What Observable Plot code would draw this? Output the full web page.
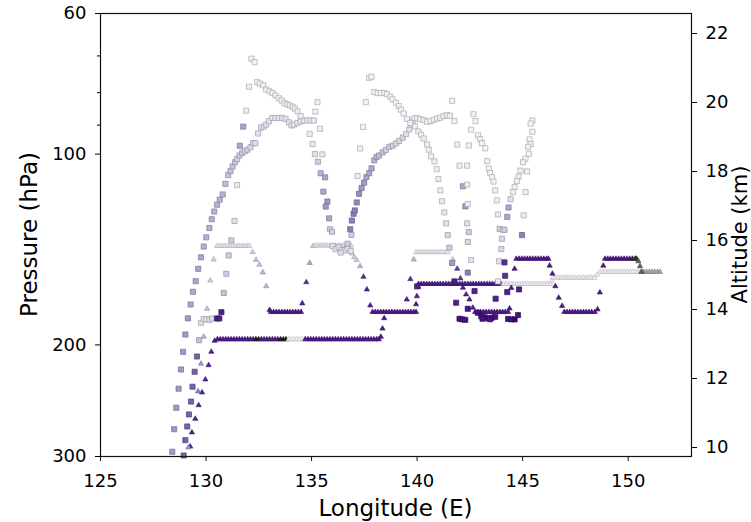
<!DOCTYPE html>
<html><head><meta charset="utf-8">
<script src="https://cdn.jsdelivr.net/npm/d3@7"></script>
<script src="https://cdn.jsdelivr.net/npm/@observablehq/plot@0.6"></script>
<style>html,body{margin:0;padding:0;background:#fff;overflow:hidden}</style>
</head><body><div id="chart"></div>
<script>
// ---- axis / tick values ----
const xTicks = [125,130,135,140,145,150];
const pMajor = [60,100,200,300];
const pMinor = [70,80,90];
const altTicks = [10,12,14,16,18,20,22];
const altAtBottom = 9.74, altAtTop = 22.58; // altitude (km) at 300 hPa and 60 hPa

// ---- squares: [longitude, pressure hPa, shade] ----
const sqOuterArc = [[128.40,294.9,0.5],[128.49,271.7,0.5],[128.59,251.3,0.5],[128.70,234.5,0.5],[128.81,218.7,0.5],[128.91,205.1,0.5],[129.02,192.6,0.5],[129.14,181.6,0.5],[129.27,172.7,0.45],[129.38,164.9,0.45],[129.51,158.7,0.45],[129.63,151.7,0.45],[129.76,145.5,0.45],[129.89,139.9,0.42],[130.01,135.3,0.42],[130.16,130.8,0.42],[130.27,126.7,0.42],[130.39,123.2,0.4],[130.52,120.2,0.4],[130.65,118.0,0.4],[130.79,115.8,0.4],[130.92,111.4,0.38],[131.05,107.9,0.35],[131.16,106.3,0.35],[131.26,104.6,0.35],[131.38,103.0,0.33],[131.47,101.8,0.3],[131.58,100.5,0.3],[131.71,99.6,0.3],[131.83,99.0,0.28],[131.96,98.4,0.28],[132.11,97.5,0.25],[132.23,96.1,0.25]];
const sqArcTop = [[132.34,96.1,0.22],[132.47,92.8,0.2],[132.61,90.8,0.2],[132.74,90.5,0.2],[132.85,89.8,0.2],[132.98,88.7,0.18],[133.14,87.7,0.18],[133.29,87.7,0.18],[133.45,87.7,0.18],[133.61,87.7,0.18],[133.77,88.0,0.18],[133.93,89.1,0.18],[134.05,90.1,0.18],[134.16,89.8,0.18],[134.33,89.3,0.16],[134.48,88.8,0.16],[134.64,88.5,0.16],[134.80,88.5,0.16],[134.96,88.5,0.16],[135.11,88.5,0.16]];
const sqTopLine = [[132.42,77.0,0.1],[132.55,77.4,0.1],[132.71,77.9,0.1],[132.85,79.1,0.1],[133.01,79.6,0.1],[133.15,80.1,0.1],[133.29,80.8,0.1],[133.44,81.6,0.1],[133.58,82.3,0.1],[133.72,83.1,0.1],[133.85,83.5,0.1],[133.97,83.8,0.1],[134.10,84.2,0.1],[134.21,84.8,0.1],[134.33,85.6,0.1],[134.48,87.1,0.12]];
const sqPeakDescent = [[132.15,70.7,0.08],[132.30,71.6,0.08],[132.04,78.3,0.1],[131.90,85.4,0.12],[131.76,90.5,0.45],[131.60,97.0,0.45],[131.47,111.9,0.15],[131.35,127.5,0.2],[131.20,136.8,0.3],[131.07,144.5,0.3],[130.96,154.5,0.3],[130.84,165.6,0.35],[130.73,177.6,0.9]];
const sqArc1Right = [[135.28,82.8,0.1],[135.18,85.7,0.1],[135.40,91.2,0.12],[134.91,92.9,0.12],[135.05,96.4,0.15],[135.16,100.0,0.2],[135.51,100.1,0.15],[135.30,102.8,0.3],[135.43,107.2,0.4],[135.64,108.8,0.45],[135.56,114.6,0.45],[135.75,118.8,0.5],[135.67,121.0,0.5],[135.83,126.3,0.45],[135.87,131.4,0.3],[135.97,132.6,0.3]];
const sqCluster136 = [[136.00,139.7,0.2],[136.14,141.3,0.2],[136.29,140.3,0.2],[136.43,141.7,0.2],[136.57,141.9,0.2],[136.71,140.9,0.2],[136.38,143.0,0.22],[136.86,142.2,0.2]];
const sqLine137 = [[137.57,82.8,0.08],[137.44,90.6,0.08],[137.30,98.0,0.1],[137.18,108.3,0.12],[136.89,134.1,0.3],[136.70,138.5,0.3]];
const sqArc2Left = [[136.83,131.4,0.6],[136.91,127.3,0.6],[136.99,124.2,0.6],[137.05,122.7,0.6],[137.14,119.2,0.55],[137.25,115.5,0.55],[137.37,113.1,0.5],[137.49,110.9,0.5],[137.60,108.7,0.45],[137.73,107.2,0.45],[137.84,105.3,0.45],[137.97,102.3,0.4],[138.08,101.1,0.4],[138.20,100.5,0.35],[138.37,99.4,0.35],[138.52,98.5,0.3],[138.68,97.4,0.3],[138.84,97.0,0.3],[139.00,96.2,0.25],[139.15,95.3,0.25],[139.32,94.2,0.25],[139.47,93.0,0.2],[139.63,91.4,0.2],[139.74,89.9,0.15],[139.79,88.6,0.15],[139.87,87.8,0.1],[140.00,87.8,0.1],[140.14,88.1,0.1],[140.31,88.4,0.1],[140.47,88.9,0.1],[140.63,88.7,0.1],[140.79,88.3,0.1],[140.95,87.9,0.1],[141.10,87.6,0.1],[141.26,87.1,0.1],[141.42,86.8,0.1],[141.55,87.0,0.1]];
const sqArc2Descent = [[137.73,75.8,0.08],[137.84,75.5,0.08],[137.97,79.8,0.08],[138.13,80.1,0.08],[138.28,80.1,0.08],[138.44,80.1,0.08],[138.57,80.4,0.08],[138.73,81.2,0.08],[138.84,82.0,0.08],[139.00,83.0,0.08],[139.13,84.0,0.08],[139.23,85.1,0.08],[139.36,86.3,0.08],[139.52,88.0,0.08],[139.68,89.3,0.1],[139.90,90.4,0.1],[140.06,92.1,0.1],[140.19,93.2,0.1],[140.31,94.5,0.1],[140.47,96.6,0.1],[140.55,98.4,0.1],[140.66,100.8,0.1],[140.82,102.7,0.1],[140.93,105.6,0.1],[141.01,109.5,0.12],[141.10,114.1,0.12],[141.18,118.7,0.15],[141.29,123.6,0.15],[141.37,128.6,0.2],[141.45,134.2,0.25],[141.53,140.5,0.3],[141.66,148.5,0.5],[141.77,158.8,0.9],[141.85,171.6,0.9],[142.01,181.9,0.95],[142.13,182.3,0.95],[142.28,182.6,0.95]];
const sqColumn142 = [[141.66,82.4,0.08],[141.77,88.7,0.08],[141.90,96.6,0.1],[142.01,104.3,0.1],[142.37,104.3,0.1],[142.17,112.4,0.45],[142.37,111.7,0.12],[142.29,120.9,0.5],[142.40,119.9,0.12],[142.45,96.9,0.08],[142.37,128.6,0.2],[142.45,132.7,0.3],[142.40,137.6,0.25],[142.56,146.9,0.2],[142.40,153.8,0.6],[142.72,164.5,0.9],[142.40,175.4,0.95]];
const sqLine143 = [[142.67,86.5,0.08],[142.77,88.7,0.08],[142.56,91.5,0.08],[142.88,93.4,0.08],[142.99,94.7,0.08],[143.07,96.1,0.08],[143.23,97.9,0.08],[143.32,102.6,0.08],[143.40,105.4,0.08],[143.46,107.1,0.08],[143.55,108.7,0.08],[143.62,110.5,0.08],[143.70,114.1,0.1],[143.78,118.3,0.12],[143.83,124.5,0.15],[143.91,131.2,0.3],[144.07,131.7,0.2],[144.02,136.0,0.25],[143.99,141.2,0.25],[143.88,147.6,0.2],[144.14,148.2,0.85],[144.17,155.6,0.85],[143.83,158.8,0.15],[144.27,165.1,0.9],[143.72,169.1,0.9],[144.83,163.5,0.9],[144.97,134.2,0.6]];
const sqLine145 = [[145.46,88.5,0.08],[145.38,89.5,0.08],[145.46,92.2,0.08],[145.33,94.8,0.08],[145.38,96.4,0.08],[145.26,97.4,0.08],[145.29,99.9,0.08],[145.13,101.7,0.08],[145.02,103.0,0.08],[144.90,106.2,0.1],[145.21,106.5,0.1],[144.81,108.5,0.1],[144.73,110.3,0.1],[144.62,112.7,0.1],[144.54,114.8,0.12],[145.14,114.8,0.1],[144.43,117.8,0.2],[144.33,121.4,0.45],[144.27,125.6,0.45],[145.05,124.9,0.12],[144.14,131.7,0.3]];
const sqLowCluster = [[142.88,178.0,0.95],[143.04,180.3,0.95],[143.20,180.9,0.95],[143.37,181.6,0.95],[143.54,181.2,0.95],[143.70,180.6,0.95],[143.10,181.9,0.95],[143.45,182.2,0.95],[144.31,182.0,0.95],[144.46,182.3,0.95],[144.62,182.3,1.0],[144.78,179.5,0.95],[140.00,161.7,0.9]];
const sqInnerArc = [[128.94,298.9,0.7],[129.02,282.7,0.7],[129.11,269.0,0.7],[129.19,257.5,0.7],[129.29,245.7,0.7],[129.36,232.8,0.7],[129.46,220.5,0.7],[129.57,208.6,0.7],[129.67,196.6,0.35]];
const sqCluster130 = [[129.76,184.6,0.2],[129.89,182.2,0.2],[130.01,182.2,0.2],[130.16,182.7,0.22],[130.29,181.7,0.22],[130.52,181.7,0.9],[130.63,181.7,0.9]];

// ---- triangles: [longitude, pressure hPa, shade]  (shade > 1: grey to black) ----
const triRiseA = [[129.25,289.4,0.9],[129.33,274.9,0.9],[129.49,261.6,0.9],[129.65,249.0,0.9],[129.81,237.7,0.9],[129.97,226.8,0.9],[130.12,215.3,0.9],[130.25,205.1,0.9]];
const triRiseB = [[129.16,290.3,0.5],[129.62,236.8,0.6],[129.76,214.2,0.5],[129.89,194.2,0.4],[130.05,175.4,0.35],[130.20,158.3,0.3],[130.36,146.7,0.3]];
const triFlat196 = [[130.41,197,0.92],[130.54,196,0.92],[130.67,196,0.92],[130.80,196,0.92],[130.93,196,0.92],[131.06,196,0.92],[131.19,196,0.92],[131.32,196,0.92],[131.45,196,0.92],[131.58,196,0.92],[131.71,196,0.92],[131.84,196,0.92],[131.97,196,0.92],[132.10,196,0.92],[132.23,196,0.92],[132.36,196,1.9],[132.49,196,1.9],[132.62,196,0.92],[132.75,196,0.92],[132.88,196,0.92],[133.01,196,0.92],[133.14,196,0.92],[133.27,196,0.92],[133.40,196,0.92],[133.53,196,1.9],[133.66,196,1.9],[133.79,196,1.9],[133.92,196,0.05],[134.05,196,0.05],[134.18,196,0.05],[134.31,196,0.05],[134.44,196,0.05],[134.57,196,0.05],[134.70,196,0.92],[134.83,196,0.92],[134.96,196,0.92],[135.09,196,0.92],[135.22,196,0.92],[135.35,196,0.92],[135.48,196,0.92],[135.61,196,0.92],[135.74,196,0.92],[135.87,196,0.92],[136.00,196,0.92],[136.13,196,0.92],[136.26,196,0.92],[136.39,196,0.92],[136.52,196,0.92],[136.65,196,0.92],[136.78,196,0.92],[136.91,196,0.92],[137.04,196,0.92],[137.17,196,0.92],[137.30,196,0.92],[137.43,196,0.92],[137.56,196,0.92],[137.69,196,0.92],[137.82,196,0.92],[137.95,196,0.92],[138.08,196,0.92],[138.19,196,0.92]];
const triRise196 = [[138.28,194.2,0.92],[138.36,188.5,0.92],[138.44,181.5,0.92]];
const triFlat140a = [[130.52,139.6,0.18],[130.65,139.6,0.18],[130.78,139.6,0.18],[130.91,139.6,0.18],[131.04,139.6,0.18],[131.17,139.6,0.18],[131.30,139.6,0.18],[131.43,139.6,0.18],[131.56,139.6,0.18],[131.69,139.6,0.18],[131.82,139.6,0.18],[131.95,139.6,0.18],[132.05,139.6,0.18]];
const triDesc1 = [[132.21,142.8,0.3],[132.37,146.9,0.35],[132.53,149.5,0.35],[132.69,153.7,0.4],[132.85,161.6,0.4],[133.01,176.2,0.92]];
const triFlat177a = [[133.07,177.5,0.92],[133.20,177.5,0.92],[133.33,177.5,0.92],[133.46,177.5,0.92],[133.59,177.5,0.92],[133.72,177.5,0.92],[133.85,177.5,0.92],[133.98,177.5,0.92],[134.11,177.5,0.92],[134.24,177.5,0.92],[134.37,177.5,0.92],[134.50,177.5,0.92]];
const triRise2 = [[134.56,172.0,0.9],[134.75,159.3,0.85],[134.91,148.5,0.45],[135.07,139.7,0.3]];
const triFlat140b = [[135.20,139.4,0.2],[135.33,139.4,0.2],[135.46,139.4,0.2],[135.59,139.4,0.2],[135.72,139.4,0.2],[135.85,139.4,0.2],[135.98,139.4,0.2],[136.11,139.4,0.2],[136.24,139.4,0.2],[136.37,139.4,0.2],[136.50,139.4,0.2],[136.63,139.4,0.2],[136.76,139.4,0.2],[136.86,139.4,0.2]];
const triDesc2 = [[136.92,143.5,0.25],[137.02,145.5,0.3],[137.14,147.0,0.3],[137.30,150.3,0.4],[137.46,156.2,0.85],[137.62,163.5,0.9],[137.78,173.3,0.9]];
const triFlat177b = [[137.89,177.5,0.92],[138.02,177.5,0.92],[138.15,177.5,0.92],[138.28,177.5,0.92],[138.41,177.5,0.92],[138.54,177.5,0.92],[138.67,177.5,0.92],[138.80,177.5,0.92],[138.93,177.5,0.92],[139.06,177.5,0.92],[139.19,177.5,0.92],[139.32,177.5,0.92],[139.45,177.5,0.92],[139.58,177.5,0.92],[139.71,177.5,0.92],[139.84,177.5,0.92],[139.95,177.5,0.92]];
const triRise3 = [[139.51,169.6,0.9],[139.68,157.5,0.85],[139.84,146.7,0.4]];
const triFlat143 = [[139.95,142.8,0.15],[140.08,142.8,0.15],[140.21,142.8,0.15],[140.34,142.8,0.15],[140.47,142.8,0.15],[140.60,142.8,0.15],[140.73,142.8,0.15],[140.86,142.8,0.15],[140.99,142.8,0.15],[141.12,142.8,0.15],[141.25,142.8,0.15],[141.38,142.8,0.15],[141.45,142.8,0.15]];
const triDesc3 = [[141.69,146.7,0.3],[141.90,151.7,0.8],[142.05,157.1,0.85],[142.17,162.5,0.9],[142.32,166.5,0.9],[142.48,169.6,0.9],[142.64,174.7,0.9]];
const triFlat177c = [[142.75,177.5,0.92],[142.88,177.5,0.92],[143.01,177.5,0.92],[143.14,177.5,0.92],[143.27,177.5,0.92],[143.40,177.5,0.92],[143.53,177.5,0.92],[143.66,177.5,0.92],[143.79,177.5,0.92],[143.92,177.5,0.92],[144.05,177.5,0.92],[144.18,177.5,0.92],[144.31,177.5,0.92]];
const triRise4 = [[144.38,175.2,0.92],[144.46,162.6,0.92],[144.62,151.7,0.92]];
const triFlat146a = [[144.70,146.3,0.92],[144.83,146.3,0.92],[144.96,146.3,0.92],[145.09,146.3,0.92],[145.22,146.3,0.92],[145.35,146.3,0.92],[145.48,146.3,0.92],[145.61,146.3,0.92],[145.74,146.3,0.92],[145.87,146.3,0.92],[146.00,146.3,0.92],[146.13,146.3,0.92],[146.22,146.3,0.92]];
const triDesc4 = [[146.28,150.0,0.92],[146.41,154.4,0.92],[146.55,161.6,0.92],[146.71,168.5,0.92],[146.87,173.6,0.92]];
const triFlat177d = [[146.97,177.5,0.92],[147.10,177.5,0.92],[147.23,177.5,0.92],[147.36,177.5,0.92],[147.49,177.5,0.92],[147.62,177.5,0.92],[147.75,177.5,0.92],[147.88,177.5,0.92],[148.01,177.5,0.92],[148.14,177.5,0.92],[148.27,177.5,0.92],[148.42,177.5,0.92]];
const triRise5 = [[148.55,175.8,0.92],[148.66,165.3,0.92],[148.82,150.0,0.92]];
const triFlat146b = [[148.90,146.3,0.92],[149.03,146.3,0.92],[149.16,146.3,0.92],[149.29,146.3,0.92],[149.42,146.3,0.92],[149.55,146.3,0.92],[149.68,146.3,0.92],[149.81,146.3,0.92],[149.94,146.3,0.92],[150.07,146.3,0.92],[150.20,146.3,1.85],[150.33,146.3,1.85],[150.40,146.3,1.85]];
const triDesc5 = [[150.48,147.6,1.7],[150.56,150.3,1.7],[150.64,153.4,1.7]];
const triRise6 = [[139.95,172.6,0.92],[139.99,167.6,0.92],[140.06,162.0,0.92]];
const triFlat160 = [[140.06,160.3,0.92],[140.19,160.3,0.92],[140.32,160.3,0.92],[140.45,160.3,0.92],[140.58,160.3,0.92],[140.71,160.3,0.92],[140.84,160.3,0.92],[140.97,160.3,0.92],[141.10,160.3,0.92],[141.23,160.3,0.92],[141.36,160.3,0.92],[141.49,160.3,0.92],[141.62,160.3,0.92],[141.75,160.3,0.92],[141.88,160.3,0.92],[142.01,160.3,0.92],[142.14,160.3,0.92],[142.27,160.3,0.92],[142.40,160.3,0.92],[142.53,160.3,0.92],[142.66,160.3,0.92],[142.79,160.3,0.92],[142.92,160.3,0.92],[143.05,160.3,0.92],[143.18,160.3,0.92],[143.31,160.3,0.92],[143.44,160.3,0.92],[143.57,160.3,0.92],[143.70,160.3,0.92],[143.83,160.3,0.92],[143.96,160.3,0.92],[144.09,160.3,0.1],[144.22,160.3,0.1],[144.35,160.3,0.1],[144.48,160.3,0.1],[144.61,160.3,0.1],[144.74,160.3,0.1],[144.87,160.3,0.1],[145.00,160.3,0.1],[145.13,160.3,0.1],[145.26,160.3,0.1],[145.39,160.3,0.1],[145.52,160.3,0.1],[145.65,160.3,0.1],[145.78,160.3,0.1],[145.91,160.3,0.1],[146.04,160.3,0.1],[146.17,160.3,0.1],[146.30,160.3,0.1]];
const triFlat157 = [[146.37,158.5,0.1],[146.45,156.7,0.1],[146.58,156.7,0.1],[146.71,156.7,0.1],[146.84,156.7,0.1],[146.97,156.7,0.1],[147.10,156.7,0.1],[147.23,156.7,0.1],[147.36,156.7,0.1],[147.49,156.7,0.1],[147.62,156.7,0.1],[147.75,156.7,0.1],[147.88,156.7,0.1],[148.01,156.7,0.1],[148.14,156.7,0.1],[148.27,156.7,0.1],[148.40,156.7,0.1]];
const triFlat153 = [[148.53,155.0,0.1],[148.66,153.4,0.1],[148.79,153.4,0.1],[148.92,153.4,0.1],[149.05,153.4,0.1],[149.18,153.4,0.1],[149.31,153.4,0.1],[149.44,153.4,0.1],[149.57,153.4,0.1],[149.70,153.4,0.1],[149.83,153.4,0.1],[149.96,153.4,0.1],[150.09,153.4,0.1],[150.22,153.4,0.1],[150.35,153.4,0.1],[150.48,153.4,0.1],[150.61,153.4,1.45],[150.74,153.4,1.45],[150.87,153.4,1.45],[151.00,153.4,1.45],[151.13,153.4,1.45],[151.26,153.4,1.45],[151.39,153.4,1.45],[151.51,153.4,1.45]];

// ---- assemble ----
const toRows = arr => arr.map(([lon, p, c]) => ({lon, p, c}));
const squares = toRows([].concat(sqOuterArc, sqInnerArc, sqCluster130, sqPeakDescent, sqArcTop, sqTopLine, sqArc1Right, sqCluster136, sqLine137, sqArc2Left, sqArc2Descent, sqColumn142, sqLine143, sqLine145, sqLowCluster));
const triangles = toRows([].concat(triFlat160, triFlat157, triFlat153, triRiseA, triRiseB, triFlat196, triRise196, triFlat140a, triDesc1, triFlat177a, triRise2, triFlat140b, triDesc2, triFlat177b, triRise3, triFlat143, triDesc3, triFlat177c, triRise4, triFlat146a, triDesc4, triFlat177d, triRise5, triFlat146b, triDesc5, triRise6));

const shade = c => c <= 1 ? d3.interpolatePurples(c) : d3.interpolateGreys(c - 1);
const edge = (c, k) => d3.color(shade(c)).darker(k).formatHex();

const pToAlt = p => altAtTop - (altAtTop - altAtBottom) * Math.log(p / 60) / Math.log(5);
const altToP = a => 60 * Math.pow(5, (altAtTop - a) / (altAtTop - altAtBottom));

const W = 751, H = 522, mL = 100, mR = 60, mT = 13, mB = 66;

const chart = Plot.plot({
  width: W, height: H,
  marginLeft: mL, marginRight: mR, marginTop: mT, marginBottom: mB,
  style: {fontFamily: "DejaVu Sans", fontSize: "18px", color: "black", background: "white", overflow: "hidden"},
  x: {domain: [125, 153], axis: null},
  y: {type: "log", domain: [60, 300], reverse: true, axis: null},
  color: {type: "identity"},
  marks: [
    Plot.dot(triangles, {x: "lon", y: "p", symbol: "triangle", r: 1.95,
      fill: d => shade(d.c), stroke: d => edge(d.c, 0.8), strokeWidth: 0.6}),
    Plot.dot(squares, {x: "lon", y: "p", symbol: "square", r: 2.9,
      fill: d => shade(d.c), stroke: d => edge(d.c, 1.0), strokeWidth: 0.7}),
    Plot.frame({stroke: "#111", strokeWidth: 1.2}),
    Plot.axisX({ticks: xTicks, tickSize: 5, tickPadding: 13, tickFormat: d => String(d), label: null, stroke: "#111"}),
    Plot.axisY({anchor: "left", ticks: pMajor, tickSize: 5, tickPadding: 9, tickFormat: d => String(d), label: null}),
    Plot.axisY({anchor: "left", ticks: pMinor, tickSize: 3, tickFormat: () => "", label: null}),
    Plot.axisY({anchor: "right", ticks: altTicks.map(altToP), tickSize: 5, tickPadding: 9,
      tickFormat: p => String(Math.round(pToAlt(p))), label: null})
  ]
});

const svg = d3.select(chart);
const midY = (mT + H - mB) / 2;
svg.append("text").attr("transform", `translate(29,${midY}) rotate(-90)`)
  .attr("text-anchor", "middle").attr("dominant-baseline", "central")
  .style("font-size", "23px").attr("fill", "black").text("Pressure (hPa)");
svg.append("text").attr("transform", `translate(740,${midY}) rotate(-90)`)
  .attr("text-anchor", "middle").attr("dominant-baseline", "central")
  .style("font-size", "21px").attr("fill", "black").text("Altitude (km)");
svg.append("text").attr("transform", `translate(${(mL + W - mR) / 2},508)`)
  .attr("text-anchor", "middle").attr("dominant-baseline", "central")
  .style("font-size", "23px").attr("fill", "black").text("Longitude (E)");

document.getElementById("chart").appendChild(chart);
</script>
</body></html>
